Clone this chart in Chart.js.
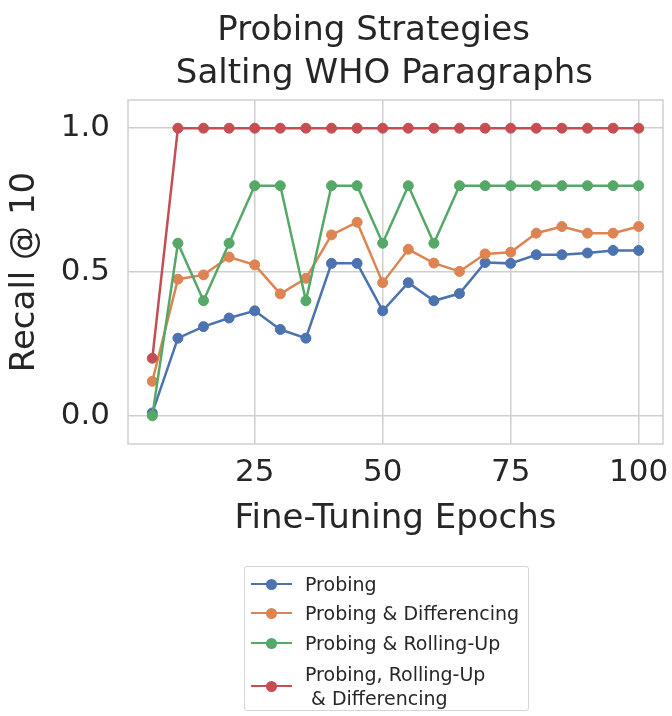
<!DOCTYPE html>
<html>
<head>
<meta charset="utf-8">
<script src="https://cdn.jsdelivr.net/npm/chart.js@4.4.0/dist/chart.umd.min.js"></script>
<style>
    body { margin: 0; background: #fff; }
    #wrap { position: relative; width: 672px; height: 716px; }
    #legend {
        position: absolute; left: 244px; top: 566px; width: 285px; height: 145px;
        border: 1px solid #d6d6d6; border-radius: 3px; box-sizing: border-box;
        font-family: "DejaVu Sans", sans-serif; font-size: 19px; color: #262626;
    }
    .legend-item { position: absolute; left: 6px; display: flex; align-items: center; }
    .legend-line { position: relative; width: 41px; height: 2.5px; margin-right: 13px; }
    .legend-dot {
        position: absolute; left: 15px; top: -4px; width: 11px; height: 11px; border-radius: 50%;
    }
    .legend-text { line-height: 24px; white-space: pre; }
</style>
</head>
<body>
<div id="wrap">
    <canvas id="chart" width="672" height="716"></canvas>
    <div id="legend"></div>
</div>
<script>
const titleLines = ['Probing Strategies ', ' Salting WHO Paragraphs'];
const epochs = [5, 10, 15, 20, 25, 30, 35, 40, 45, 50, 55, 60, 65, 70, 75, 80, 85, 90, 95, 100];
const xTicks = [25, 50, 75, 100];
const yTicks = [0, 0.5, 1.0];

const probing = [0.01, 0.27, 0.31, 0.34, 0.365, 0.30, 0.27, 0.53, 0.53, 0.365, 0.463, 0.40, 0.425, 0.533, 0.53, 0.56, 0.56, 0.566, 0.575, 0.575];
const probingDiff = [0.12, 0.475, 0.49, 0.552, 0.525, 0.424, 0.478, 0.629, 0.673, 0.463, 0.579, 0.531, 0.502, 0.563, 0.569, 0.635, 0.658, 0.635, 0.635, 0.658];
const probingRoll = [0.0, 0.6, 0.4, 0.6, 0.8, 0.8, 0.4, 0.8, 0.8, 0.6, 0.8, 0.6, 0.8, 0.8, 0.8, 0.8, 0.8, 0.8, 0.8, 0.8];
const probingAll = [0.2, 1, 1, 1, 1, 1, 1, 1, 1, 1, 1, 1, 1, 1, 1, 1, 1, 1, 1, 1];

const seriesNames = ['Probing', 'Probing & Differencing', 'Probing & Rolling-Up', 'Probing, Rolling-Up\n & Differencing'];
const seriesValues = [probing, probingDiff, probingRoll, probingAll];
const seriesColors = ['#4c72b0', '#dd8452', '#55a868', '#c44e52'];

const textColor = '#262626';
const gridColor = '#cfcfcf';
const font = '"DejaVu Sans", sans-serif';

// title + full box round the plot, like the seaborn whitegrid spines
const framePlugin = {
    id: 'frame',
    beforeDatasetsDraw(chart) {
        const { ctx, chartArea: a } = chart;
        ctx.save();
        ctx.strokeStyle = gridColor;
        ctx.lineWidth = 1.5;
        ctx.strokeRect(a.left, a.top, a.right - a.left, a.bottom - a.top);
        ctx.restore();
    },
    afterDraw(chart) {
        const { ctx } = chart;
        ctx.save();
        ctx.fillStyle = textColor;
        ctx.font = `34px ${font}`;
        ctx.textAlign = 'center';
        ctx.textBaseline = 'alphabetic';
        ctx.fillText(titleLines[0], 379, 40);
        ctx.fillText(titleLines[1], 379, 83);
        ctx.restore();
    },
};

const datasets = seriesNames.map((name, i) => ({
    label: name,
    data: epochs.map((x, j) => ({ x, y: seriesValues[i][j] })),
    borderColor: seriesColors[i],
    backgroundColor: seriesColors[i],
    pointBackgroundColor: seriesColors[i],
    pointBorderColor: seriesColors[i],
    borderWidth: 2.5,
    pointRadius: 5,
    pointBorderWidth: 1,
    tension: 0,
    order: seriesNames.length - i,
}));

new Chart(document.getElementById('chart'), {
    type: 'line',
    data: { datasets },
    options: {
        responsive: false,
        animation: false,
        layout: { padding: { top: 100, right: 9, left: 0, bottom: 0 } },
        plugins: { legend: { display: false }, title: { display: false }, tooltip: { enabled: false } },
        scales: {
            x: {
                type: 'linear',
                min: 0.25,
                max: 104.75,
                afterBuildTicks: (scale) => { scale.ticks = xTicks.map(v => ({ value: v })); },
                afterFit: (scale) => {
                    scale.height = 272;
                    scale.paddingLeft = 0;
                    scale.paddingRight = 0;
                },
                border: { display: false },
                grid: { color: gridColor, lineWidth: 1.5, drawTicks: false },
                ticks: { color: textColor, padding: 10, font: { family: font, size: 31 } },
                title: {
                    display: true, text: 'Fine-Tuning Epochs', color: textColor,
                    font: { family: font, size: 34 }, padding: { bottom: 176 },
                },
            },
            y: {
                type: 'linear',
                min: -0.098,
                max: 1.098,
                afterBuildTicks: (scale) => { scale.ticks = yTicks.map(v => ({ value: v })); },
                afterFit: (scale) => {
                    scale.width = 128;
                    scale.paddingTop = 0;
                    scale.paddingBottom = 0;
                },
                border: { display: false },
                grid: { color: gridColor, lineWidth: 1.5, drawTicks: false },
                ticks: { color: textColor, padding: 18, font: { family: font, size: 31 }, callback: v => v.toFixed(1) },
                title: {
                    display: true, text: 'Recall @ 10', color: textColor,
                    font: { family: font, size: 34 }, padding: { top: 5 },
                },
            },
        },
    },
    plugins: [framePlugin],
});

// legend drawn as html below the plot
const legendRows = [17, 46, 76, 119];
const legend = document.getElementById('legend');
seriesNames.forEach((name, i) => {
    const item = document.createElement('div');
    item.className = 'legend-item';
    item.style.top = (legendRows[i] - (i === 3 ? 24 : 12)) + 'px';
    item.innerHTML = `
        <span class="legend-line" style="background:${seriesColors[i]}">
            <span class="legend-dot" style="background:${seriesColors[i]}"></span>
        </span>
        <span class="legend-text">${name.replace('&', '&amp;')}</span>
    `;
    legend.appendChild(item);
});
</script>
</body>
</html>
